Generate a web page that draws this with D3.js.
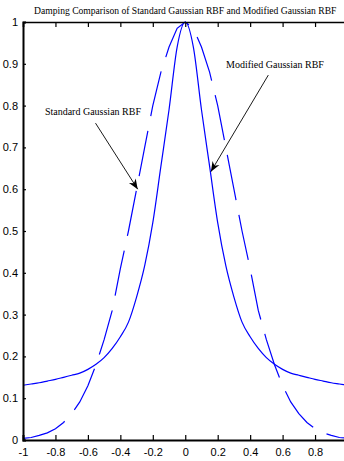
<!DOCTYPE html>
<html>
<head>
<meta charset="utf-8">
<script src="https://cdn.jsdelivr.net/npm/d3@7"></script>
<style>
  html, body { margin: 0; padding: 0; background: #fff; overflow: hidden; }
  svg { display: block; font-family: "Liberation Serif", "DejaVu Serif", serif; }
</style>
</head>
<body>
<div id="chart"></div>
<script>
const xs = [-1, -0.95, -0.9, -0.85, -0.8, -0.75, -0.7, -0.65, -0.6, -0.55, -0.5, -0.45, -0.4, -0.35, -0.3, -0.25, -0.2, -0.15, -0.1, -0.05,
  0, 0.05, 0.1, 0.15, 0.2, 0.25, 0.3, 0.35, 0.4, 0.45, 0.5, 0.55, 0.6, 0.65, 0.7, 0.75, 0.8, 0.85, 0.9, 0.95, 1];

// standard gaussian (dashed)
const standardVals = [0.004, 0.006, 0.011, 0.017, 0.027, 0.042, 0.063, 0.091, 0.13, 0.18, 0.24, 0.31, 0.41, 0.50, 0.60, 0.70, 0.80, 0.88, 0.94, 0.985,
  1, 0.985, 0.94, 0.88, 0.80, 0.70, 0.60, 0.50, 0.41, 0.31, 0.24, 0.18, 0.13, 0.091, 0.063, 0.042, 0.027, 0.017, 0.011, 0.006, 0.004];

// modified gaussian (solid)
const modifiedVals = [0.131, 0.134, 0.137, 0.141, 0.145, 0.150, 0.155, 0.160, 0.169, 0.181, 0.197, 0.219, 0.247, 0.282, 0.342, 0.417, 0.52, 0.655, 0.79, 0.94,
  1, 0.94, 0.79, 0.655, 0.52, 0.417, 0.342, 0.282, 0.247, 0.219, 0.197, 0.181, 0.169, 0.160, 0.155, 0.150, 0.145, 0.141, 0.137, 0.134, 0.131];

const xTicks = [-1, -0.8, -0.6, -0.4, -0.2, 0, 0.2, 0.4, 0.6, 0.8, 1];
const yTicks = [0, 0.1, 0.2, 0.3, 0.4, 0.5, 0.6, 0.7, 0.8, 0.9, 1];

const titleText = "Damping Comparison of Standard Gaussian RBF and Modified Gaussian RBF";

// annotation: label point and arrow tail/head in data units
const notes = [
  { label: "Standard Gaussian RBF", lx: -0.569, ly: 0.778, x1: -0.553, y1: 0.758, x2: -0.293, y2: 0.600 },
  { label: "Modified Gaussian RBF", lx: 0.553, ly: 0.889, x1: 0.512, y1: 0.873, x2: 0.158, y2: 0.642 }
];

const W = 344, H = 461;
const svg = d3.select("#chart").append("svg")
  .attr("width", W)
  .attr("height", H);

// axes box runs a bit past the right edge of the window
const x = d3.scaleLinear().domain([-1, 1]).range([23, 347.5]);
const y = d3.scaleLinear().domain([0, 1]).range([440, 22]);

// title, squeezed a little like the original's narrow font
svg.append("text")
  .attr("transform", `translate(${x(0)},13.5) scale(0.915,1)`)
  .attr("text-anchor", "middle")
  .style("font-size", "10.5px")
  .text(titleText);

// curves
const pts = vals => xs.map((v, i) => [v, vals[i]]);
const line = d3.line().x(d => x(d[0])).y(d => y(d[1]));

svg.append("path")
  .datum(pts(standardVals))
  .attr("d", line)
  .attr("fill", "none")
  .attr("stroke", "#0000ff")
  .attr("stroke-width", 1.2)
  .attr("stroke-dasharray", "46,15");

svg.append("path")
  .datum(pts(modifiedVals))
  .attr("d", line.curve(d3.curveMonotoneX))
  .attr("fill", "none")
  .attr("stroke", "#0000ff")
  .attr("stroke-width", 1.2);

// axes - matlab style, ticks inward
const fmt = d => String(d);
const gx = svg.append("g").attr("transform", `translate(0,${y(0)})`)
  .call(d3.axisBottom(x).tickValues(xTicks).tickSize(-5).tickPadding(8).tickFormat(fmt));
gx.select(".domain").attr("stroke-width", 2);
gx.selectAll(".tick line").attr("stroke-width", 1.2);
gx.selectAll("text").style("font-size", "11px").attr("fill", "#000");
// the "1" label falls outside the window
gx.selectAll(".tick text").filter(d => d === 1).remove();

const gxTop = svg.append("g").attr("transform", `translate(0,${y(1)})`)
  .call(d3.axisTop(x).tickValues(xTicks).tickSize(-5).tickFormat(""));
gxTop.select(".domain").attr("stroke-width", 1.5);
gxTop.selectAll(".tick line").attr("stroke-width", 1.2);

const gy = svg.append("g").attr("transform", `translate(${x(-1)},0)`)
  .call(d3.axisLeft(y).tickValues(yTicks).tickSize(-3).tickPadding(5).tickFormat(fmt));
gy.select(".domain").attr("stroke-width", 2);
gy.selectAll(".tick line").attr("stroke-width", 1.2);
gy.selectAll("text").style("font-size", "11px").attr("fill", "#000");

// annotations
notes.forEach(n => {
  svg.append("text")
    .attr("x", x(n.lx))
    .attr("y", y(n.ly))
    .attr("text-anchor", "middle")
    .style("font-size", "10px")
    .text(n.label);

  const ax1 = x(n.x1), ay1 = y(n.y1), ax2 = x(n.x2), ay2 = y(n.y2);
  svg.append("line")
    .attr("x1", ax1).attr("y1", ay1)
    .attr("x2", ax2).attr("y2", ay2)
    .attr("stroke", "#000")
    .attr("stroke-width", 0.9);

  const ang = Math.atan2(ay2 - ay1, ax2 - ax1) * 180 / Math.PI;
  svg.append("path")
    .attr("d", "M0,0 L-10,-4 L-7,0 L-10,4 Z")
    .attr("transform", `translate(${ax2},${ay2}) rotate(${ang})`)
    .attr("fill", "#000");
});
</script>
</body>
</html>
